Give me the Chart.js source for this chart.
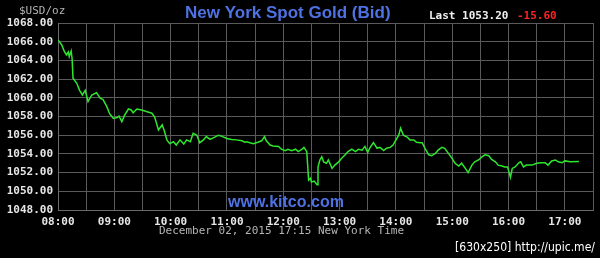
<!DOCTYPE html>
<html>
<head>
<meta charset="utf-8">
<title>New York Spot Gold (Bid)</title>
<script src="https://cdn.jsdelivr.net/npm/chart.js@4.4.0/dist/chart.umd.min.js"></script>
<style>
  body { margin: 0; background: #000; }
  canvas { display: block; }
</style>
</head>
<body>
<canvas id="goldChart" width="600" height="258"></canvas>
<script>
// minutes after 08:00 New York time
const minutes = [0, 4, 7, 9, 11, 12, 14, 15, 16, 20, 23, 26, 29, 32, 36, 41, 45, 48, 52, 55,
    59, 63, 65, 68, 71, 75, 78, 80, 84, 89, 95, 100, 103, 107, 111, 113, 116, 119, 123, 126,
    130, 134, 137, 141, 144, 148, 151, 155, 158, 162, 167, 171, 174, 180, 185, 190, 196, 199, 201, 208,
    213, 217, 220, 222, 226, 229, 235, 238, 242, 245, 249, 253, 256, 260, 262, 265, 266, 267, 269, 270,
    273, 276, 277, 279, 281, 283, 286, 288, 292, 295, 299, 302, 306, 309, 313, 317, 320, 324, 327, 330,
    332, 336, 340, 343, 347, 350, 354, 357, 359, 363, 365, 368, 372, 375, 379, 382, 386, 388, 391, 395,
    398, 402, 405, 409, 412, 416, 420, 423, 427, 430, 434, 437, 441, 444, 448, 452, 455, 459, 462, 466,
    469, 473, 476, 479, 482, 484, 487, 491, 493, 496, 499, 505, 510, 515, 519, 522, 526, 530, 533, 537,
    540, 546, 555];
const prices = [1066.2, 1065.65, 1064.9, 1064.6, 1064.9, 1064.4, 1065.0, 1064.2, 1062.1, 1061.55, 1060.8, 1060.3, 1060.8, 1059.6, 1060.3, 1060.55, 1059.95, 1059.8, 1059.05, 1058.3,
    1057.8, 1057.9, 1058.05, 1057.45, 1058.15, 1058.8, 1058.7, 1058.4, 1058.8, 1058.7, 1058.5, 1058.35, 1057.95, 1056.55, 1057.1, 1056.55, 1055.5, 1055.1, 1055.3, 1054.95,
    1055.5, 1055.05, 1055.5, 1055.3, 1056.2, 1056.0, 1055.2, 1055.5, 1055.85, 1055.55, 1055.8, 1056.0, 1055.9, 1055.65, 1055.55, 1055.5, 1055.4, 1055.25, 1055.3, 1055.1,
    1055.25, 1055.4, 1055.85, 1055.4, 1054.95, 1054.85, 1054.8, 1054.5, 1054.35, 1054.5, 1054.35, 1054.5, 1054.25, 1054.5, 1054.7, 1054.25, 1052.8, 1051.2, 1051.4, 1051.0,
    1051.1, 1050.7, 1052.6, 1053.35, 1053.7, 1053.15, 1053.0, 1053.35, 1052.45, 1052.8, 1053.15, 1053.5, 1053.9, 1054.25, 1054.5, 1054.25, 1054.5, 1054.4, 1054.8, 1054.15,
    1054.6, 1055.2, 1054.6, 1054.7, 1054.35, 1054.6, 1054.7, 1054.95, 1055.3, 1056.0, 1056.75, 1056.0, 1055.8, 1055.5, 1055.5, 1055.25, 1055.2, 1055.2, 1054.6, 1053.9,
    1053.8, 1054.05, 1054.4, 1054.7, 1054.6, 1054.05, 1053.5, 1053.0, 1052.7, 1053.0, 1052.45, 1052.0, 1052.8, 1053.15, 1053.35, 1053.7, 1053.9, 1053.8, 1053.4, 1053.15,
    1052.8, 1052.7, 1052.6, 1052.6, 1051.5, 1052.45, 1052.6, 1053.05, 1053.15, 1052.6, 1052.8, 1052.8, 1053.0, 1053.05, 1053.05, 1052.8, 1053.25, 1053.35, 1053.15, 1053.05,
    1053.25, 1053.15, 1053.2];
const hourLabels = ['08:00', '09:00', '10:00', '11:00', '12:00', '13:00', '14:00', '15:00', '16:00', '17:00'];

const points = minutes.map((m, i) => ({ x: m, y: prices[i] }));

// extra texts around the plot
const textPlugin = {
    id: 'texts',
    afterDraw(chart) {
        const c = chart.ctx;
        c.save();
        c.textBaseline = 'middle';
        c.textAlign = 'left';

        c.font = '11px "DejaVu Sans Mono"';
        c.fillStyle = '#b4b4b4';
        c.fillText('$USD/oz', 19, 11);

        c.font = 'bold 17px "Liberation Sans", Arial';
        c.fillStyle = '#4f72e3';
        c.fillText('New York Spot Gold (Bid)', 185, 13, 211);

        c.font = 'bold 11px "DejaVu Sans Mono"';
        c.fillStyle = '#f0f0f0';
        c.fillText('Last 1053.20', 429, 16);
        c.fillStyle = '#ff2222';
        c.fillText('-15.60', 517, 16);

        c.font = 'bold 16px "Liberation Sans", Arial';
        c.fillStyle = '#4f72e3';
        c.fillText('www.kitco.com', 228, 203, 125);

        c.font = '11px "DejaVu Sans Mono"';
        c.fillStyle = '#b4b4b4';
        c.fillText('December 02, 2015 17:15 New York Time', 159, 231);

        c.font = '12px "DejaVu Sans"';
        c.fillStyle = '#ffffff';
        c.fillText('[630x250] http://upic.me/', 455, 248, 140);
        c.restore();
    }
};

new Chart(document.getElementById('goldChart'), {
    type: 'line',
    data: {
        datasets: [{
            data: points,
            borderColor: '#2fe62f',
            borderWidth: 1.5,
            pointRadius: 0,
            tension: 0,
            fill: false
        }]
    },
    options: {
        responsive: false,
        animation: false,
        layout: { padding: { top: 23, right: 7, left: 0, bottom: 0 } },
        plugins: {
            legend: { display: false },
            tooltip: { enabled: false }
        },
        scales: {
            x: {
                type: 'linear',
                min: 0,
                max: 570,
                afterFit: s => { s.height = 48; },
                grid: { color: '#5a5a5a', drawTicks: false },
                border: { color: '#6a6a6a' },
                ticks: {
                    stepSize: 30,
                    autoSkip: false,
                    maxRotation: 0,
                    padding: 6,
                    color: '#e6e6e6',
                    font: { family: 'DejaVu Sans Mono', size: 11, weight: 'bold' },
                    callback: v => (v % 60 === 0 && v / 60 < hourLabels.length) ? hourLabels[v / 60] : ''
                }
            },
            y: {
                min: 1048,
                max: 1068,
                afterFit: s => { s.width = 58; },
                grid: { color: '#5a5a5a', drawTicks: false },
                border: { color: '#6a6a6a' },
                ticks: {
                    stepSize: 2,
                    padding: 5,
                    color: '#e6e6e6',
                    font: { family: 'DejaVu Sans Mono', size: 11, weight: 'bold' },
                    callback: v => v.toFixed(2)
                }
            }
        }
    },
    plugins: [textPlugin]
});
</script>
</body>
</html>
